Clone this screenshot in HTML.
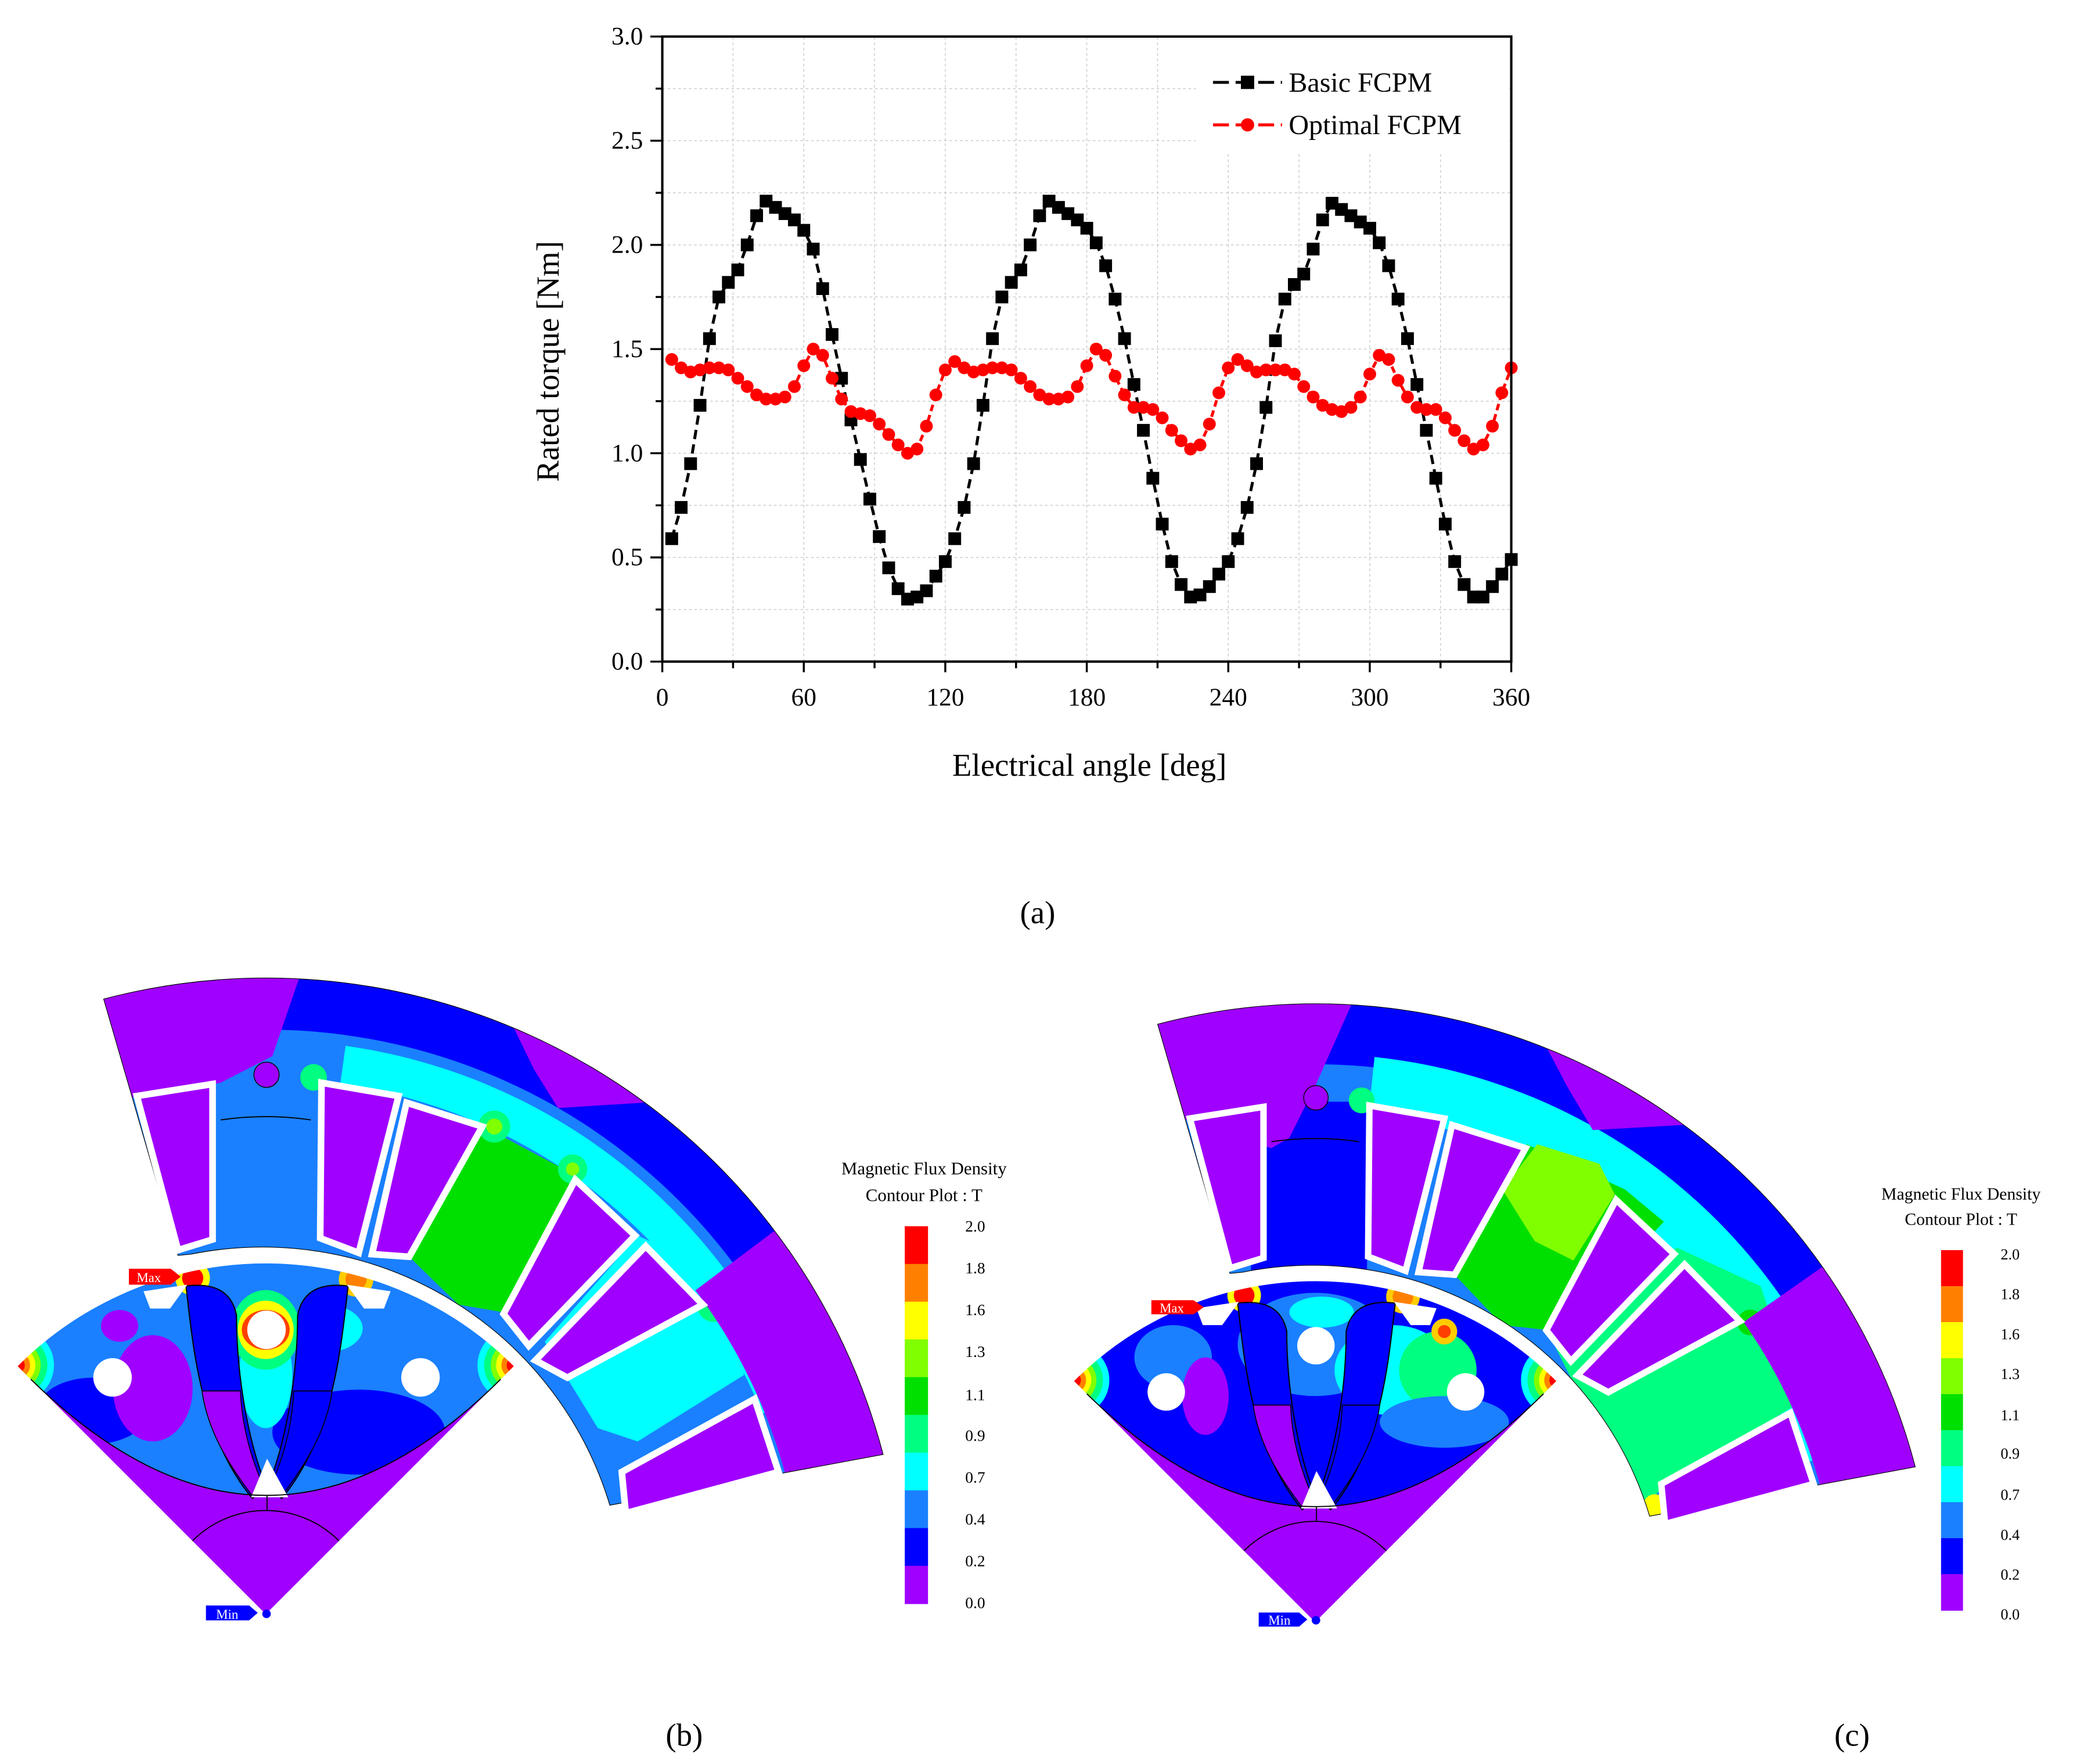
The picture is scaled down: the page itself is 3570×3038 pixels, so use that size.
<!DOCTYPE html>
<html><head><meta charset="utf-8"><style>
html,body{margin:0;padding:0;background:#fff;}
svg{display:block;}
text{font-family:"Liberation Serif",serif;}
</style></head><body>
<svg id="root" width="3570" height="3038" viewBox="0 0 1560.3 1327.8" xmlns="http://www.w3.org/2000/svg">
<rect x="0" y="0" width="1560.3" height="1327.8" fill="#fff"/>
<g id="chart">
  <g id="grid"></g>
  <rect x="900" y="28.5" width="236" height="86" fill="#fff"/>
  <g id="series"></g>
  <g id="axes"></g>
  <g id="ticklabels" font-size="19" fill="#000"></g>
  <text x="415" y="272" font-size="24" text-anchor="middle" transform="rotate(-90 415 272)" dominant-baseline="middle">Rated torque [Nm]</text>
  <text x="820" y="584" font-size="24" text-anchor="middle">Electrical angle [deg]</text>
  <g>
    <line x1="913" y1="62" x2="965" y2="62" stroke="#000" stroke-width="2.2" stroke-dasharray="12 5"/>
    <rect x="934" y="57" width="10" height="10" fill="#000"/>
    <text x="970" y="69" font-size="21">Basic FCPM</text>
    <line x1="913" y1="94" x2="965" y2="94" stroke="#f00" stroke-width="2.2" stroke-dasharray="12 5"/>
    <circle cx="939" cy="94" r="5" fill="#f00"/>
    <text x="970" y="101" font-size="21">Optimal FCPM</text>
  </g>
  <text x="781" y="695" font-size="24" text-anchor="middle">(a)</text>
</g>

<g id="motorB"></g>
<g id="motorC" transform="translate(795.5,741) scale(0.972) translate(0,-721.2)"></g>

<g font-family="Liberation Sans, sans-serif">
  <path d="M97 955 H128.5 L136 961 L128.5 967 H97 Z" fill="#f00"/>
  <text x="112" y="965" font-size="10" fill="#fff" text-anchor="middle" font-family="Liberation Sans, sans-serif">Max</text>
  <path d="M155 1208.5 H187.5 L194 1214 L187.5 1219.7 H155 Z" fill="#00f"/>
  <text x="171" y="1218.5" font-size="10" fill="#fff" text-anchor="middle" font-family="Liberation Sans, sans-serif">Min</text>
  <circle cx="200.6" cy="1214.8" r="3.2" fill="#00f"/>
  <path d="M866.6 978.7 H898.4 L906 984 L898.4 989.3 H866.6 Z" fill="#f00"/>
  <text x="882" y="988" font-size="10" fill="#fff" text-anchor="middle" font-family="Liberation Sans, sans-serif">Max</text>
  <path d="M947.4 1213.8 H977.8 L984 1219 L977.8 1224.4 H947.4 Z" fill="#00f"/>
  <text x="963" y="1223" font-size="10" fill="#fff" text-anchor="middle" font-family="Liberation Sans, sans-serif">Min</text>
  <circle cx="990.5" cy="1219.6" r="3.2" fill="#00f"/>
</g>

<g>
  <g id="barB"></g>
  <text x="695.5" y="884" font-size="13.5" text-anchor="middle">Magnetic Flux Density</text>
  <text x="695.5" y="904" font-size="13.5" text-anchor="middle">Contour Plot : T</text>
  <g font-size="12" text-anchor="middle">
    <text x="734" y="927">2.0</text><text x="734" y="958.5">1.8</text><text x="734" y="990">1.6</text><text x="734" y="1021.5">1.3</text><text x="734" y="1054">1.1</text><text x="734" y="1084.5">0.9</text><text x="734" y="1116">0.7</text><text x="734" y="1147.5">0.4</text><text x="734" y="1179">0.2</text><text x="734" y="1210.5">0.0</text>
  </g>
</g>
<g>
  <g id="barC"></g>
  <text x="1476" y="903" font-size="13" text-anchor="middle">Magnetic Flux Density</text>
  <text x="1476" y="922" font-size="13" text-anchor="middle">Contour Plot : T</text>
  <g font-size="11.5" text-anchor="middle">
    <text x="1513" y="948">2.0</text><text x="1513" y="978">1.8</text><text x="1513" y="1008">1.6</text><text x="1513" y="1038">1.3</text><text x="1513" y="1069">1.1</text><text x="1513" y="1098">0.9</text><text x="1513" y="1129">0.7</text><text x="1513" y="1159">0.4</text><text x="1513" y="1189">0.2</text><text x="1513" y="1219">0.0</text>
  </g>
</g>
<text x="515" y="1314" font-size="24" text-anchor="middle">(b)</text>
<text x="1394" y="1314" font-size="24" text-anchor="middle">(c)</text>
</svg>
<script>
const angles = [4,8,12,16,20,24,28,32,36,40,44,48,52,56,60,64,68,72,76,80,84,88,92,96,100,104,108,112,116,120,124,128,132,136,140,144,148,152,156,160,164,168,172,176,180,184,188,192,196,200,204,208,212,216,220,224,228,232,236,240,244,248,252,256,260,264,268,272,276,280,284,288,292,296,300,304,308,312,316,320,324,328,332,336,340,344,348,352,356,360];
const basicTorque = [0.59,0.74,0.95,1.23,1.55,1.75,1.82,1.88,2.00,2.14,2.21,2.18,2.15,2.12,2.07,1.98,1.79,1.57,1.36,1.16,0.97,0.78,0.60,0.45,0.35,0.30,0.31,0.34,0.41,0.48,0.59,0.74,0.95,1.23,1.55,1.75,1.82,1.88,2.00,2.14,2.21,2.18,2.15,2.12,2.08,2.01,1.90,1.74,1.55,1.33,1.11,0.88,0.66,0.48,0.37,0.31,0.32,0.36,0.42,0.48,0.59,0.74,0.95,1.22,1.54,1.74,1.81,1.86,1.98,2.12,2.20,2.17,2.14,2.11,2.08,2.01,1.90,1.74,1.55,1.33,1.11,0.88,0.66,0.48,0.37,0.31,0.31,0.36,0.42,0.49];
const optimalTorque = [1.45,1.41,1.39,1.40,1.41,1.41,1.40,1.36,1.32,1.28,1.26,1.26,1.27,1.32,1.42,1.50,1.47,1.36,1.26,1.20,1.19,1.18,1.14,1.09,1.04,1.00,1.02,1.13,1.28,1.40,1.44,1.41,1.39,1.40,1.41,1.41,1.40,1.36,1.32,1.28,1.26,1.26,1.27,1.32,1.42,1.50,1.47,1.37,1.28,1.22,1.22,1.21,1.17,1.11,1.06,1.02,1.04,1.14,1.29,1.41,1.45,1.42,1.39,1.40,1.40,1.40,1.38,1.32,1.27,1.23,1.21,1.20,1.22,1.27,1.38,1.47,1.45,1.35,1.27,1.22,1.21,1.21,1.17,1.11,1.06,1.02,1.04,1.13,1.29,1.41];
const xTickValues = [0,60,120,180,240,300,360];
const xTickLabels = ["0","60","120","180","240","300","360"];
const yTickValues = [0,0.5,1.0,1.5,2.0,2.5,3.0];
const yTickLabels = ["0.0","0.5","1.0","1.5","2.0","2.5","3.0"];

const NS = "http://www.w3.org/2000/svg";
const X0 = 498.5, X1 = 1137.5, Y0 = 498, Y1 = 27.5;
function xs(v){ return X0 + (v/360)*(X1-X0); }
function ys(v){ return Y0 - (v/3)*(Y0-Y1); }
function mk(tag, attrs, parent){
  const el = document.createElementNS(NS, tag);
  for (const k in attrs) el.setAttribute(k, attrs[k]);
  parent.appendChild(el);
  return el;
}
const grid = document.getElementById('grid');
for (let v = 30; v < 360; v += 30) {
  const el = mk('line', {x1:xs(v), y1:ys(0), x2:xs(v), y2:ys(3), stroke:'#c8c8c8', 'stroke-width':0.6, 'stroke-dasharray':'2 2'}, grid);
  
  
}
for (let v = 0.25; v < 3; v += 0.25) {
  const el = mk('line', {x1:xs(0), y1:ys(v), x2:xs(360), y2:ys(v), stroke:'#c8c8c8', 'stroke-width':0.6, 'stroke-dasharray':'2 2'}, grid);
  
  
}
const series = document.getElementById('series');
const bl = mk('polyline', {points: angles.map((a,i)=>xs(a)+','+ys(basicTorque[i])).join(' '), fill:'none', stroke:'#000', 'stroke-width':2.2, 'stroke-dasharray':'7 4'}, series);


const ol = mk('polyline', {points: angles.map((a,i)=>xs(a)+','+ys(optimalTorque[i])).join(' '), fill:'none', stroke:'#f00', 'stroke-width':2.2, 'stroke-dasharray':'5 3'}, series);


angles.forEach((a,i)=>{
  const s = mk('rect', {x:xs(a)-4.8, y:ys(basicTorque[i])-4.8, width:9.6, height:9.6, fill:'#000'}, series);
  
  
});
angles.forEach((a,i)=>{
  const c = mk('circle', {cx:xs(a), cy:ys(optimalTorque[i]), r:4.8, fill:'#f00'}, series);
  
  
});
const axes = document.getElementById('axes');
const frame = mk('rect', {x:X0, y:Y1, width:X1-X0, height:Y0-Y1, fill:'none', stroke:'#000', 'stroke-width':1.8}, axes);


for (let v = 0; v <= 360; v += 30) {
  const major = (v % 60 === 0);
  const t = mk('line', {x1:xs(v), y1:Y0, x2:xs(v), y2:Y0 + (major?8:5), stroke:'#000', 'stroke-width':1.5}, axes);
  
  
}
for (let v = 0; v <= 3.001; v += 0.25) {
  const major = (Math.abs(v*2 - Math.round(v*2)) < 1e-6);
  const t = mk('line', {x1:X0 - (major?9:5), y1:ys(v), x2:X0, y2:ys(v), stroke:'#000', 'stroke-width':1.5}, axes);
  
  
}
const tl = document.getElementById('ticklabels');
xTickValues.forEach((v,i)=>{
  const t = mk('text', {x:xs(v), y:531, 'text-anchor':'middle'}, tl);
  t.textContent = xTickLabels[i];
  
  
});
yTickValues.forEach((v,i)=>{
  const t = mk('text', {x:484, y:ys(v)+6, 'text-anchor':'end'}, tl);
  t.textContent = yTickLabels[i];
  
  
});

const bandColors = ['#ff0000','#ff8000','#ffff00','#80ff00','#00e000','#00ff80','#00ffff','#1a80ff','#0000ff','#a000ff'];
function colorbar(id, x, y0, y1, w){
  const g = document.getElementById(id);
  const h = (y1-y0)/10;
  bandColors.forEach((c,i)=>{
    const r = mk('rect', {x:x, y:y0+i*h, width:w, height:h+0.4, fill:c}, g);
    
    
  });
}
colorbar('barB', 681, 923, 1207, 17.5);
colorbar('barC', 1461, 941, 1212, 16.5);

const CX = 200, CY = 1215;
function P(r,t){ const a=t*Math.PI/180; return [(CX+r*Math.sin(a)).toFixed(2),(CY-r*Math.cos(a)).toFixed(2)]; }
function ann(r1,r2,t1,t2){
  const a=P(r2,t1), b=P(r2,t2), c=P(r1,t2), d=P(r1,t1);
  return `M${a} A${r2} ${r2} 0 0 1 ${b} L${c} A${r1} ${r1} 0 0 0 ${d} Z`;
}
function poly(pts){ return 'M' + pts.map(p=>p.join(',')).join(' L') + ' Z'; }
const statorPath = `M78,752 A480 480 0 0 1 ${P(480,75.5)} L459,1133 A273 273 0 0 0 144,944 L134,945 Z`;
const rotorPath = `M${CX},${CY} L${P(265,-45)} A265 265 0 0 1 ${P(265,45)} Z`;
const upperPath = `M${P(250,-45)} Q201,1213 ${P(250,45)} L${P(265,45)} A265 265 0 0 0 ${P(265,-45)} Z`;
const slots = [
  [[103,825],[160,816],[160,933],[134,941]],
  [[242,815],[300,825],[270,943],[241,932]],
  [[306,830],[363,848],[308,946],[280,944]],
  [[433,888],[478,930],[398,1013],[379,989]],
  [[486,938],[529,982],[427,1037],[403,1024]],
  [[568,1053],[586,1108],[471,1139],[468,1108]]
];
const toothGreen = [[308,946],[364,848],[432,884],[380,988],[345,982]];
const lowerCyan = [[410,1010],[480,930],[545,960],[560,1035],[480,1085],[450,1075]];

const statorLayersB = [
  ['path', {d: ann(440,484,-5,62), fill:'#0000ff'}, 'stator-outer-band'],
  ['path', {d: ann(403,432,8,68), fill:'#00ffff'}, 'stator-cyan-band'],
  ['path', {d: poly(lowerCyan), fill:'#00ffff'}, 'stator-cyan-region'],
  ['path', {d: poly(toothGreen), fill:'#00e000'}, 'stator-green-tooth'],
  ['circle', {cx:372, cy:848, r:12, fill:'#00ff80'}, 'hotspot'],
  ['circle', {cx:372, cy:848, r:6, fill:'#80ff00'}, 'hotspot'],
  ['circle', {cx:431, cy:880, r:11, fill:'#00ff80'}, 'hotspot'],
  ['circle', {cx:431, cy:880, r:5, fill:'#80ff00'}, 'hotspot'],
  ['circle', {cx:537, cy:983, r:12, fill:'#00ff80'}, 'hotspot'],
  ['circle', {cx:236, cy:811, r:10, fill:'#00ff80'}, 'hotspot'],
  ['path', {d: poly([[60,740],[228,728],[205,795],[166,815],[100,826]]), fill:'#a000ff'}, 'stator-zero-region'],
  ['path', {d: poly([[380,760],[455,790],[485,830],[420,834],[402,805]]), fill:'#a000ff'}, 'stator-zero-region'],
  ['path', {d: ann(405,490,53,80), fill:'#a000ff'}, 'stator-zero-region']
];
const statorLayersC = [
  ['path', {d: ann(432,484,-5,64), fill:'#0000ff'}, 'stator-outer-band'],
  ['path', {d: ann(395,440,6,72), fill:'#00ffff'}, 'stator-cyan-band'],
  ['path', {d: poly([[155,812],[242,812],[240,950],[150,950]]), fill:'#0000ff'}, 'stator-dark-tooth'],
  ['path', {d: poly([[385,1000],[480,925],[545,955],[575,1045],[470,1110],[450,1130]]), fill:'#00ff80'}, 'stator-green-region'],
  ['path', {d: poly([[308,946],[364,845],[440,880],[470,905],[390,990],[345,985]]), fill:'#00e000'}, 'stator-green-tooth'],
  ['path', {d: poly([[345,880],[372,845],[420,860],[432,884],[400,935],[370,920]]), fill:'#80ff00'}, 'stator-lime-region'],
  ['circle', {cx:537, cy:983, r:10, fill:'#00e000'}, 'hotspot'],
  ['circle', {cx:236, cy:811, r:10, fill:'#00ff80'}, 'hotspot'],
  ['path', {d: poly([[60,740],[232,728],[200,800],[180,840],[166,848],[100,826]]), fill:'#a000ff'}, 'stator-zero-region'],
  ['path', {d: poly([[372,756],[455,790],[485,830],[415,834],[395,800]]), fill:'#a000ff'}, 'stator-zero-region'],
  ['path', {d: ann(405,490,55,80), fill:'#a000ff'}, 'stator-zero-region'],
  ['circle', {cx:463, cy:1125, r:9, fill:'#ffff00'}, 'hotspot']
];
const rotorLayersB = [
  ['ellipse', {cx:70, cy:1062, rx:42, ry:25, fill:'#0000ff'}, 'rotor-patch'],
  ['ellipse', {cx:270, cy:1078, rx:65, ry:32, fill:'#0000ff'}, 'rotor-patch'],
  ['ellipse', {cx:115, cy:1045, rx:30, ry:40, fill:'#a000ff'}, 'rotor-patch'],
  ['ellipse', {cx:90, cy:998, rx:14, ry:12, fill:'#a000ff'}, 'rotor-patch'],
  ['ellipse', {cx:245, cy:1000, rx:28, ry:18, fill:'#00ffff'}, 'rotor-patch'],
  ['ellipse', {cx:200, cy:1035, rx:20, ry:40, fill:'#00ffff'}, 'rotor-patch'],
  ['ellipse', {cx:200, cy:1001, rx:26, ry:30, fill:'#00ff80'}, 'rotor-hot'],
  ['ellipse', {cx:200, cy:1001, rx:21, ry:22, fill:'#ffff00'}, 'rotor-hot'],
  ['ellipse', {cx:200, cy:1001, rx:18, ry:15, fill:'#ff4000'}, 'rotor-hot'],
  ['circle', {cx:145, cy:962, r:13, fill:'#ffff00'}, 'rotor-hot'],
  ['circle', {cx:145, cy:962, r:8, fill:'#ff0000'}, 'rotor-hot'],
  ['circle', {cx:268, cy:963, r:13, fill:'#ffcc00'}, 'rotor-hot'],
  ['circle', {cx:268, cy:963, r:8, fill:'#ff8000'}, 'rotor-hot']
];
const rotorLayersC = [
  ['ellipse', {cx:200, cy:1000, rx:60, ry:40, fill:'#1a80ff'}, 'rotor-patch'],
  ['ellipse', {cx:260, cy:1020, rx:45, ry:35, fill:'#00ffff'}, 'rotor-patch'],
  ['ellipse', {cx:295, cy:1020, rx:30, ry:30, fill:'#00ff80'}, 'rotor-patch'],
  ['ellipse', {cx:300, cy:1060, rx:50, ry:20, fill:'#1a80ff'}, 'rotor-patch'],
  ['ellipse', {cx:90, cy:1010, rx:30, ry:25, fill:'#1a80ff'}, 'rotor-patch'],
  ['ellipse', {cx:115, cy:1040, rx:18, ry:30, fill:'#a000ff'}, 'rotor-patch'],
  ['ellipse', {cx:205, cy:975, rx:25, ry:12, fill:'#00ffff'}, 'rotor-patch'],
  ['circle', {cx:145, cy:962, r:13, fill:'#ffff00'}, 'rotor-hot'],
  ['circle', {cx:145, cy:962, r:8, fill:'#ff0000'}, 'rotor-hot'],
  ['circle', {cx:268, cy:963, r:13, fill:'#ffcc00'}, 'rotor-hot'],
  ['circle', {cx:268, cy:963, r:8, fill:'#ff8000'}, 'rotor-hot'],
  ['circle', {cx:300, cy:990, r:10, fill:'#ffcc00'}, 'rotor-hot'],
  ['circle', {cx:300, cy:990, r:5, fill:'#ff4000'}, 'rotor-hot']
];

function drawMotor(gid, prefix, statorLayers, rotorBase, rotorLayers){
  const g = document.getElementById(gid);
  const defs = mk('defs', {}, g);
  const cs = mk('clipPath', {id: prefix+'cs'}, defs);
  mk('path', {d: statorPath}, cs);
  const cu = mk('clipPath', {id: prefix+'cu'}, defs);
  mk('path', {d: upperPath}, cu);
  const st = mk('g', {'clip-path':`url(#${prefix}cs)`}, g);
  
  
  const sb = mk('path', {d: statorPath, fill:'#1a80ff'}, st);
  
  
  statorLayers.forEach(L=>{
    const el = mk(L[0], L[1], st);
    
    
  });
  const hole = mk('circle', {cx:200.6, cy:809, r:9.5, fill:'#a000ff', stroke:'#000', 'stroke-width':0.6}, g);
  
  
  const sl = mk('path', {d:'M166,843 Q200,838 234,843', fill:'none', stroke:'#000', 'stroke-width':0.8}, g);
  
  
  const so = mk('path', {d: statorPath, fill:'none', stroke:'#000', 'stroke-width':0.5}, g);
  
  
  slots.forEach(s=>{
    const el = mk('path', {d: poly(s), fill:'#a000ff', stroke:'#fff', 'stroke-width':5, 'stroke-linejoin':'miter'}, g);
    
    
  });
  const rb = mk('path', {d: rotorPath, fill:'#a000ff'}, g);
  
  
  const ru = mk('g', {'clip-path':`url(#${prefix}cu)`}, g);
  
  
  const ub = mk('path', {d: upperPath, fill: rotorBase}, ru);
  
  
  rotorLayers.forEach(L=>{
    const el = mk(L[0], L[1], ru);
    
    
  });
  [[P(265,-45)],[P(265,45)]].forEach(tp=>{
    const p = tp[0];
    [[28,'#00ffff'],[23,'#00ff80'],[18,'#80ff00'],[14,'#ffff00'],[10,'#ff8000'],[6,'#ff0000']].forEach(c=>{
      const el = mk('circle', {cx:p[0], cy:p[1], r:c[0], fill:c[1]}, ru);
      
      
    });
  });
  const poleD = 'M140,968 C145,1010 150,1080 190,1128 L200,1118 C185,1080 178,1030 178,990 C175,975 165,965 140,968 Z';
  [0,1].forEach(k=>{
    const pg = mk('g', k ? {transform:'translate(402,0) scale(-1,1)'} : {}, g);
    
    
    const pe = mk('path', {d: poleD, fill:'#0000ff', stroke:'#000', 'stroke-width':0.9}, pg);
    
    
    const lp = mk('path', {d:'M152,1047 L181,1047 C182,1075 190,1100 198,1118 L190,1126 C170,1100 156,1075 152,1047 Z', fill: k ? '#0000ff' : '#a000ff', stroke:'#000', 'stroke-width':0.7}, pg);
    
    
  });
  [[200.6,1001],[84.7,1036.8],[316.5,1036.8]].forEach(h=>{
    const el = mk('circle', {cx:h[0], cy:h[1], r:14.5, fill:'#fff'}, g);
    
    
  });
  [[[108,972],[141,967],[128,985],[113,985]],[[294,972],[261,967],[274,985],[289,985]],[[189,1127],[201,1098],[217,1127]]].forEach(s=>{
    const el = mk('path', {d: poly(s), fill:'#fff'}, g);
    
    
  });
  const ga = mk('path', {d:`M${P(266,-46)} A266 266 0 0 1 ${P(266,46)}`, fill:'none', stroke:'#fff', 'stroke-width':4}, g);
  
  
  const cl = mk('path', {d:`M${P(250,-45)} Q201,1213 ${P(250,45)}`, fill:'none', stroke:'#000', 'stroke-width':0.8}, g);
  
  
  const sa = mk('path', {d:`M${P(78,-45)} A78 78 0 0 1 ${P(78,45)} M201,1126 L201,1137`, fill:'none', stroke:'#000', 'stroke-width':0.8}, g);
  
  
}
drawMotor('motorB', 'b', statorLayersB, '#1a80ff', rotorLayersB);
drawMotor('motorC', 'c', statorLayersC, '#0000ff', rotorLayersC);
</script>
</body></html>
